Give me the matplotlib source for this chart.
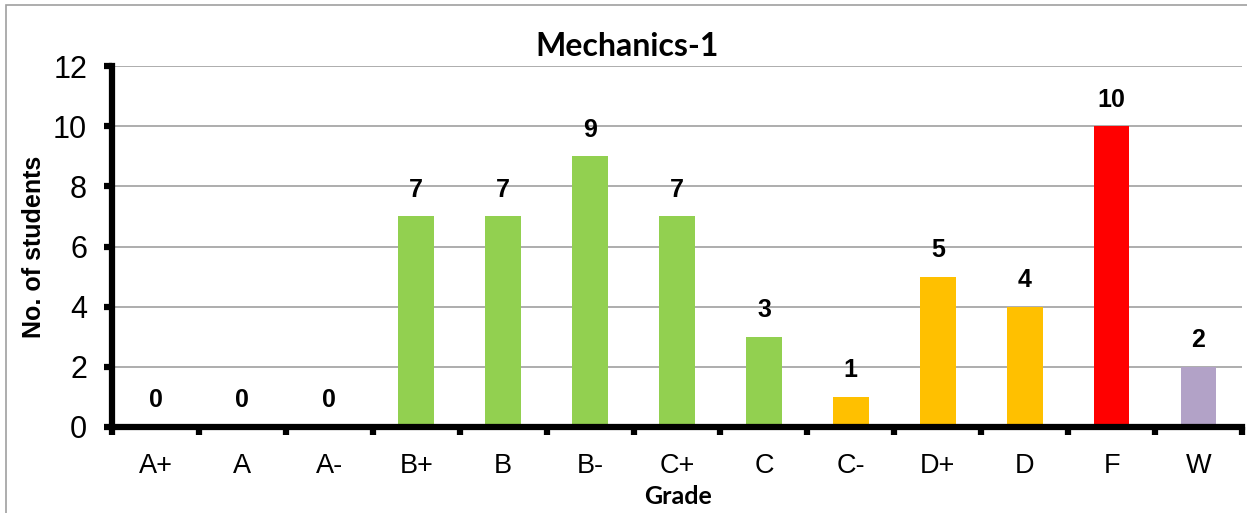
import matplotlib
matplotlib.use("Agg")
import matplotlib.pyplot as plt
from matplotlib.patches import Rectangle
from matplotlib.ticker import FixedLocator, NullFormatter

grades = ["A+", "A", "A-", "B+", "B", "B-", "C+", "C", "C-", "D+", "D", "F", "W"]
counts = [0, 0, 0, 7, 7, 9, 7, 3, 1, 5, 4, 10, 2]
colors = ["#92D050"] * 8 + ["#FFC000"] * 3 + ["#FF0000", "#B2A2C7"]
yticks = [0, 2, 4, 6, 8, 10, 12]

fig = plt.figure(figsize=(12.47, 5.13), dpi=100)
fig.patches.append(Rectangle((6 / 1247, -0.1), 1.2, 1 - 5 / 513 + 0.1,
                             transform=fig.transFigure, fill=False,
                             edgecolor="#A0A0A0", linewidth=1.2))
ax = fig.add_axes([112 / 1247, 1 - 427 / 513, (1242 - 112) / 1247, (427 - 66) / 513])

x = list(range(len(grades)))
ax.bar(x, counts, width=0.41, color=colors, zorder=3)
for xi, v in zip(x, counts):
    ax.annotate(str(v), (xi, v), xytext=(0, 10.5), textcoords="offset points",
                ha="center", va="bottom", fontsize=18, fontweight="bold",
                family="Liberation Sans", zorder=6)

ax.set_xlim(-0.5, len(grades) - 0.5)
ax.set_ylim(0, 12)
ax.set_yticks(yticks)
ax.yaxis.grid(True, color="#A0A0A0", linewidth=1.2, zorder=0)
ax.set_axisbelow(True)
ax.set_xticks(x)
ax.set_xticklabels(grades, fontsize=19.5, family="Liberation Sans")
ax.xaxis.set_minor_locator(FixedLocator([i - 0.5 for i in range(len(grades) + 1)]))
ax.xaxis.set_minor_formatter(NullFormatter())
ax.tick_params(axis="x", which="major", length=0, pad=19)
ax.tick_params(axis="x", which="minor", length=6, width=4.5, direction="out")
ax.tick_params(axis="y", which="major", length=6, width=4.5, direction="out",
               labelsize=22, pad=12)
for lab in ax.get_yticklabels():
    lab.set_family("Liberation Sans")

for s in ["top", "right"]:
    ax.spines[s].set_visible(False)
for s in ["left", "bottom"]:
    ax.spines[s].set_linewidth(4.5)
    ax.spines[s].set_zorder(5)

ax.set_ylabel("No. of students", fontsize=18, fontweight="bold",
              family="Liberation Sans", labelpad=5)
fig.text(678 / 1247, 1 - 497 / 513, "Grade", ha="center", va="center",
         fontsize=18, fontweight="bold", family="Lato")
fig.text(627 / 1247, 1 - 47 / 513, "Mechanics-1", ha="center", va="center",
         fontsize=23, fontweight="bold", family="Lato")

fig.savefig("out.png", dpi=100)
